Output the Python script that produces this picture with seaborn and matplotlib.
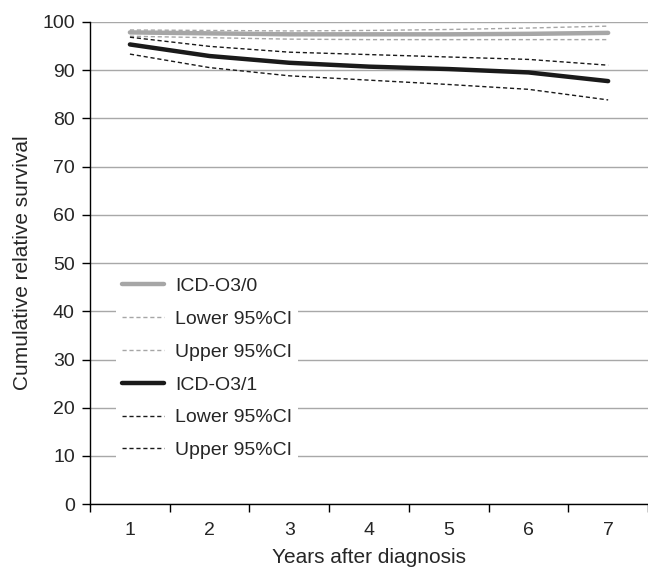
import numpy as np
import pandas as pd
import matplotlib
matplotlib.use("Agg")
import matplotlib.pyplot as plt
import seaborn as sns

# Values
years = [1, 2, 3, 4, 5, 6, 7]
o30_mean = [97.8, 97.6, 97.4, 97.4, 97.4, 97.5, 97.7]
o30_lower = [97.0, 96.7, 96.4, 96.3, 96.3, 96.3, 96.3]
o30_upper = [98.3, 98.2, 98.1, 98.2, 98.4, 98.7, 99.1]
o31_mean = [95.3, 92.9, 91.5, 90.7, 90.2, 89.5, 87.7]
o31_lower = [93.3, 90.5, 88.8, 87.9, 87.0, 86.0, 83.8]
o31_upper = [96.8, 94.9, 93.7, 93.2, 92.7, 92.2, 91.0]

sns.set_style("white")
plt.rcParams['font.family'] = ['Liberation Sans', 'DejaVu Sans']

fig = plt.figure(figsize=(6.48, 5.73), dpi=100)
ax = fig.add_axes([0.139, 0.12, 0.861, 0.842])

light = '#a6a6a6'
dark = '#1a1a1a'
dash = (0, (3, 2))

sns.lineplot(x=years, y=o30_mean, ax=ax, color=light, linewidth=3.2, label='ICD-O3/0')
sns.lineplot(x=years, y=o30_lower, ax=ax, color=light, linewidth=1, linestyle=dash, label='Lower 95%CI')
sns.lineplot(x=years, y=o30_upper, ax=ax, color=light, linewidth=1, linestyle=dash, label='Upper 95%CI')
sns.lineplot(x=years, y=o31_mean, ax=ax, color=dark, linewidth=3.2, label='ICD-O3/1')
sns.lineplot(x=years, y=o31_lower, ax=ax, color=dark, linewidth=1, linestyle=dash, label='Lower 95%CI')
sns.lineplot(x=years, y=o31_upper, ax=ax, color=dark, linewidth=1, linestyle=dash, label='Upper 95%CI')

ax.set_xlim(0.5, 7.5)
ax.set_ylim(0, 100)
ax.set_yticks(np.arange(0, 101, 10))
ax.set_xticks(years)
ax.set_xticks(np.arange(0.5, 7.6, 1), minor=True)
ax.tick_params(axis='x', which='major', length=0, labelsize=14, pad=13)
ax.tick_params(axis='x', which='minor', length=6, width=1, direction='out', color='black', bottom=True)
ax.tick_params(axis='y', length=6, width=1, direction='out', color='black', labelsize=14, pad=5, left=True)
ax.yaxis.grid(True, color='#a8a8a8', linewidth=1)
ax.set_axisbelow(True)

for s in ['top', 'right']:
    ax.spines[s].set_visible(False)
for s in ['left', 'bottom']:
    ax.spines[s].set_color('black')
    ax.spines[s].set_linewidth(1)

ax.set_xlabel('Years after diagnosis', fontsize=15, labelpad=6)
ax.set_ylabel('Cumulative relative survival', fontsize=15, labelpad=7)

leg = ax.legend(loc='upper left', bbox_to_anchor=(0.0296, 0.502), fontsize=14,
                frameon=True, facecolor='white', edgecolor='none', framealpha=1,
                fancybox=False, handlelength=2.15, handletextpad=0.58,
                labelspacing=0.78, borderpad=0.3)

fig.savefig('out.png', dpi=100)
